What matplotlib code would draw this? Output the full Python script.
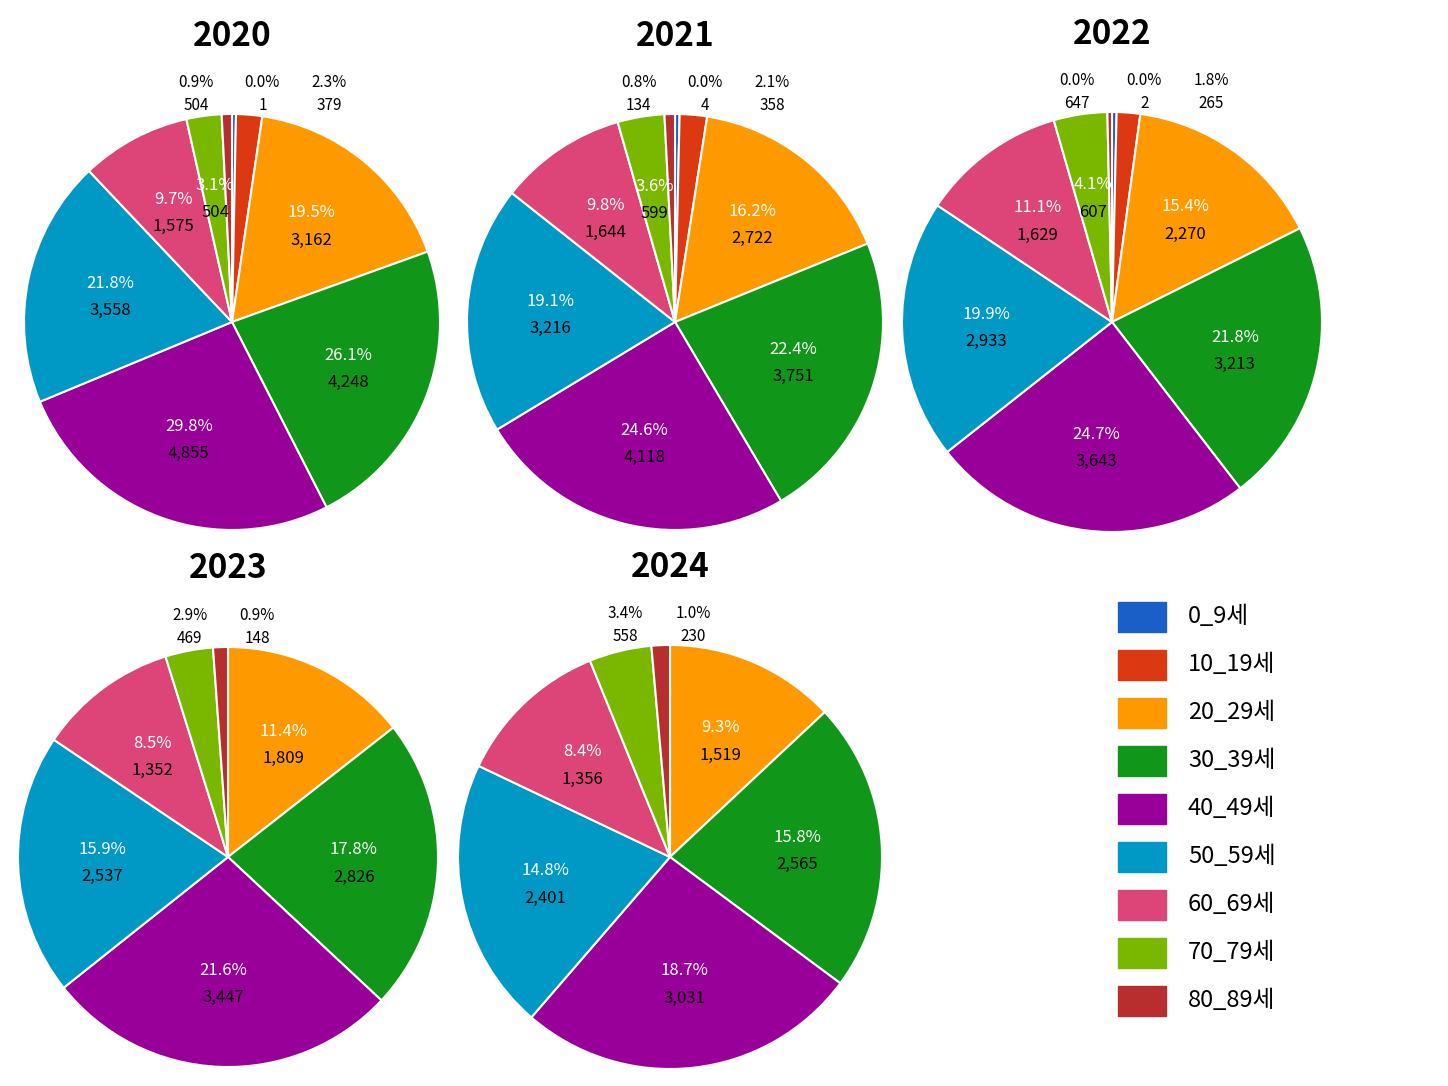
import matplotlib
matplotlib.use("Agg")
from matplotlib import pyplot as plt
from matplotlib.patches import Rectangle
import numpy as np

plt.rcParams['font.family'] = ['Noto Sans CJK KR', 'DejaVu Sans']

groups = ["0_9세", "10_19세", "20_29세", "30_39세", "40_49세", "50_59세", "60_69세", "70_79세", "80_89세"]
colors = ["#1a5fc8", "#dc3912", "#ff9900", "#109618", "#990099", "#0099c6", "#dd4477", "#7ab800", "#b82e2e"]

years = ["2020", "2021", "2022", "2023", "2024"]
# displayed percentages and counts (None = group absent)
pct_2020 = [0.0, 2.3, 19.5, 26.1, 29.8, 21.8, 9.7, 3.1, 0.9]
cnt_2020 = [1, 379, 3162, 4248, 4855, 3558, 1575, 504, 504]
pct_2021 = [0.0, 2.1, 16.2, 22.4, 24.6, 19.1, 9.8, 3.6, 0.8]
cnt_2021 = [4, 358, 2722, 3751, 4118, 3216, 1644, 599, 134]
pct_2022 = [0.0, 1.8, 15.4, 21.8, 24.7, 19.9, 11.1, 4.1, 0.0]
cnt_2022 = [2, 265, 2270, 3213, 3643, 2933, 1629, 607, 647]
pct_2023 = [None, None, 11.4, 17.8, 21.6, 15.9, 8.5, 2.9, 0.9]
cnt_2023 = [None, None, 1809, 2826, 3447, 2537, 1352, 469, 148]
pct_2024 = [None, None, 9.3, 15.8, 18.7, 14.8, 8.4, 3.4, 1.0]
cnt_2024 = [None, None, 1519, 2565, 3031, 2401, 1356, 558, 230]
# groups whose label sits outside the pie
outside_2020 = [0, 1, 8]
outside_2021 = [0, 1, 8]
outside_2022 = [0, 1, 8]
outside_2023 = [7, 8]
outside_2024 = [7, 8]

pcts = [pct_2020, pct_2021, pct_2022, pct_2023, pct_2024]
cnts = [cnt_2020, cnt_2021, cnt_2022, cnt_2023, cnt_2024]
outs = [outside_2020, outside_2021, outside_2022, outside_2023, outside_2024]

W, H = 1448, 1086
fig = plt.figure(figsize=(W / 100, H / 100), dpi=100)
centers = [(232, 322, 208), (675, 322, 208), (1112, 322, 210), (228, 857, 210), (670, 857, 212)]

for yr, pc, cn, out, (cx, cy, r) in zip(years, pcts, cnts, outs, centers):
    ax = fig.add_axes([(cx - r) / W, 1 - (cy + r) / H, 2 * r / W, 2 * r / H])
    idx = [i for i, p in enumerate(pc) if p is not None]
    sizes = [max(pc[i], 0.35) for i in idx]
    wedges, _ = ax.pie(sizes, colors=[colors[i] for i in idx], startangle=90, counterclock=False,
                       wedgeprops=dict(edgecolor="white", linewidth=1.5))
    ax.set_xlim(-1, 1)
    ax.set_ylim(-1, 1)
    ax.set_aspect("auto")
    ax.axis("off")
    outer = []
    for w, i in zip(wedges, idx):
        ang = np.deg2rad((w.theta1 + w.theta2) / 2)
        label_p = f"{pc[i]:.1f}%"
        label_c = f"{cn[i]:,}"
        if i in out:
            outer.append([np.cos(ang) * 1.1, label_p, label_c])
        else:
            x, y = np.cos(ang) * 0.6, np.sin(ang) * 0.6
            ax.text(x, y + 0.06, label_p, color="white", fontsize=12, ha="center", va="center")
            ax.text(x, y - 0.07, label_c, color="black", fontsize=12, ha="center", va="center")
    outer.sort(key=lambda o: o[0])
    for k in range(1, len(outer)):
        if outer[k][0] - outer[k - 1][0] < 0.32:
            outer[k][0] = outer[k - 1][0] + 0.32
    shift = (outer[0][0] + outer[-1][0]) / 2 if len(outer) > 1 else 0
    for x, lp, lc in outer:
        x = x - shift * 0.5
        ax.text(x, 1.15, lp, fontsize=11, ha="center", va="center", clip_on=False)
        ax.text(x, 1.04, lc, fontsize=11, ha="center", va="center", clip_on=False)
    fig.text(cx / W, 1 - (cy - r - 78) / H, yr, fontsize=24, fontweight="bold", ha="center", va="center")

for k, (g, c) in enumerate(zip(groups, colors)):
    y = 617 + k * 48
    fig.patches.append(Rectangle((1118 / W, 1 - (y + 15) / H), 48 / W, 30 / H, color=c, transform=fig.transFigure))
    fig.text(1188 / W, 1 - y / H, g, fontsize=17, va="center", ha="left")

fig.savefig("out.png", dpi=100)
